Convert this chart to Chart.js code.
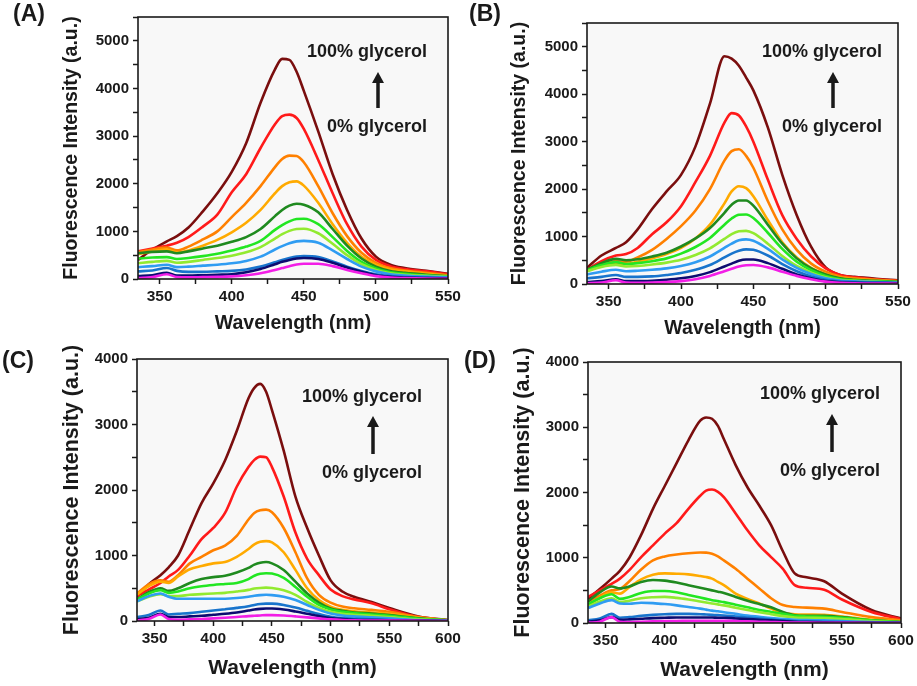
<!DOCTYPE html>
<html lang="en">

<head>
    <meta charset="UTF-8">
    <title>Fluorescence vs glycerol</title>
    <style>
        body {
            margin: 0;
            background-color: #fff;
            width: 917px;
            height: 686px;
            position: relative;
            overflow: hidden;
        }

        canvas {
            position: absolute;
        }
    </style>
    <script src="https://cdn.jsdelivr.net/npm/chart.js"></script>
</head>

<body>
    <canvas id="panelA" width="470" height="340" style="left:0;top:0"></canvas>
    <canvas id="panelB" width="459" height="340" style="left:458px;top:0"></canvas>
    <canvas id="panelC" width="470" height="346" style="left:0;top:340px"></canvas>
    <canvas id="panelD" width="459" height="346" style="left:458px;top:340px"></canvas>

    <script>
        // wavelengths (nm)
        const wlAB = [335, 345, 355, 362, 370, 380, 390, 400, 410, 420, 430, 435, 440, 445, 450, 460, 470, 480, 490, 500, 510, 520, 535, 550];
        const wlCD = [335, 345, 355, 362, 370, 380, 390, 400, 410, 420, 430, 435, 440, 445, 450, 460, 470, 480, 490, 500, 510, 520, 535, 550, 575, 600];

        // tick positions (labels only on every other one)
        const xTicksAB = [350, 375, 400, 425, 450, 475, 500, 525, 550];
        const xTicksCD = [350, 375, 400, 425, 450, 475, 500, 525, 550, 575, 600];
        const yTicksAB = [0, 500, 1000, 1500, 2000, 2500, 3000, 3500, 4000, 4500, 5000, 5500];
        const yTicksCD = [0, 500, 1000, 1500, 2000, 2500, 3000, 3500, 4000];

        const glycerol = ['0%', '10%', '20%', '30%', '40%', '50%', '60%', '70%', '80%', '90%', '100%'];
        const lineColors = ['#f21ee6', '#0c0c70', '#1874cc', '#2f9cf2', '#92ea30', '#22e622', '#1f8a1f', '#ffaa00', '#ff8000', '#ff1a1a', '#7a0e0e'];

        // (A) one row per glycerol fraction, 0% .. 100%
        const seriesA = [
            [20, 40, 100, 40, 35, 40, 45, 55, 80, 120, 190, 230, 270, 305, 320, 320, 270, 190, 120, 60, 30, 20, 10, 5],
            [60, 80, 130, 70, 70, 80, 90, 100, 140, 210, 310, 360, 400, 430, 440, 420, 340, 240, 150, 80, 45, 30, 20, 15],
            [160, 180, 230, 170, 150, 150, 160, 170, 200, 260, 350, 400, 440, 470, 480, 460, 370, 260, 170, 100, 60, 40, 30, 20],
            [250, 270, 300, 250, 260, 280, 300, 330, 380, 470, 620, 690, 750, 790, 800, 760, 600, 420, 260, 160, 100, 75, 50, 35],
            [330, 360, 380, 340, 360, 400, 440, 490, 560, 670, 850, 940, 1010, 1050, 1055, 960, 740, 500, 310, 190, 120, 90, 65, 45],
            [430, 450, 460, 420, 440, 480, 530, 600, 680, 800, 1030, 1130, 1210, 1260, 1265, 1150, 880, 590, 360, 220, 140, 110, 75, 50],
            [540, 570, 580, 540, 580, 640, 700, 780, 880, 1050, 1320, 1450, 1540, 1580, 1560, 1400, 1050, 700, 430, 260, 170, 130, 90, 60],
            [520, 580, 620, 560, 600, 700, 820, 980, 1180, 1450, 1800, 1950, 2030, 2050, 1960, 1600, 1150, 760, 470, 300, 200, 160, 110, 70],
            [560, 620, 660, 600, 680, 830, 1000, 1300, 1600, 1950, 2350, 2520, 2590, 2580, 2450, 1950, 1380, 900, 550, 340, 230, 180, 130, 80],
            [580, 640, 700, 760, 880, 1100, 1350, 1820, 2200, 2750, 3250, 3420, 3450, 3380, 3150, 2500, 1800, 1150, 680, 400, 270, 210, 160, 100],
            [400, 620, 790, 900, 1080, 1420, 1800, 2250, 2850, 3700, 4400, 4620, 4600, 4350, 3950, 3100, 2200, 1450, 850, 470, 300, 230, 170, 110]
        ];

        // (B)
        const seriesB = [
            [15, 30, 80, 30, 25, 30, 40, 60, 100, 170, 270, 320, 370, 395, 400, 350, 260, 170, 100, 50, 25, 15, 10, 5],
            [40, 60, 100, 60, 60, 70, 90, 120, 170, 250, 370, 430, 490, 515, 515, 440, 320, 200, 120, 60, 35, 25, 20, 15],
            [120, 150, 190, 150, 150, 160, 190, 230, 300, 400, 560, 640, 700, 730, 720, 600, 420, 270, 160, 90, 55, 40, 30, 20],
            [200, 260, 300, 270, 280, 300, 330, 380, 460, 580, 760, 850, 920, 940, 910, 740, 520, 340, 210, 120, 75, 55, 40, 30],
            [270, 360, 400, 370, 380, 410, 450, 510, 610, 750, 950, 1050, 1110, 1120, 1070, 850, 590, 380, 240, 140, 85, 65, 45, 35],
            [290, 400, 460, 420, 440, 480, 540, 640, 780, 970, 1250, 1380, 1460, 1465, 1390, 1080, 740, 470, 290, 170, 100, 75, 55, 40],
            [300, 440, 530, 500, 520, 580, 660, 790, 960, 1180, 1500, 1670, 1760, 1760, 1650, 1250, 850, 540, 330, 200, 120, 90, 65, 45],
            [280, 380, 430, 420, 470, 540, 630, 760, 960, 1250, 1700, 1950, 2060, 2020, 1850, 1350, 880, 560, 340, 210, 130, 100, 75, 50],
            [290, 420, 480, 470, 560, 720, 950, 1220, 1550, 2000, 2600, 2800, 2840, 2700, 2450, 1750, 1150, 720, 430, 260, 160, 120, 90, 60],
            [300, 480, 600, 630, 760, 1050, 1300, 1640, 2150, 2700, 3400, 3600, 3550, 3320, 3000, 2200, 1450, 950, 580, 330, 190, 140, 100, 70],
            [340, 600, 760, 880, 1150, 1580, 1950, 2300, 2900, 3800, 4800, 4750, 4600, 4350, 4080, 3300, 2300, 1450, 780, 350, 190, 150, 110, 80]
        ];

        // (C)
        const seriesC = [
            [10, 30, 100, 30, 20, 25, 30, 40, 50, 60, 75, 80, 85, 90, 90, 85, 70, 55, 40, 25, 15, 10, 8, 5, 2, 0],
            [30, 50, 110, 60, 60, 70, 80, 95, 110, 130, 160, 175, 185, 190, 190, 175, 145, 110, 75, 45, 30, 20, 15, 10, 5, 0],
            [60, 90, 160, 100, 110, 120, 140, 160, 180, 200, 225, 245, 260, 265, 265, 245, 205, 155, 105, 65, 45, 35, 25, 15, 5, 0],
            [300, 380, 420, 370, 340, 340, 340, 340, 340, 350, 370, 385, 395, 400, 395, 370, 320, 245, 170, 115, 85, 70, 55, 40, 15, 5],
            [300, 370, 410, 380, 380, 400, 410, 420, 430, 450, 475, 495, 505, 510, 505, 470, 400, 290, 200, 140, 110, 95, 80, 60, 25, 8],
            [320, 420, 470, 430, 450, 500, 530, 550, 565, 580, 640, 690, 720, 730, 725, 660, 520, 370, 245, 175, 140, 120, 100, 80, 35, 10],
            [330, 440, 500, 460, 500, 580, 640, 670, 690, 740, 810, 860, 890, 900, 880, 780, 600, 420, 280, 190, 155, 130, 115, 90, 40, 10],
            [400, 530, 600, 580, 680, 790, 840, 880, 900, 980, 1100, 1170, 1210, 1220, 1200, 1050, 780, 500, 320, 220, 170, 150, 130, 110, 50, 10],
            [420, 560, 620, 600, 700, 880, 980, 1080, 1150, 1300, 1550, 1650, 1690, 1700, 1660, 1420, 1050, 650, 400, 280, 220, 195, 170, 140, 60, 10],
            [380, 480, 580, 680, 780, 1000, 1250, 1420, 1650, 2050, 2350, 2460, 2510, 2500, 2350, 1900, 1350, 950, 700, 480, 380, 330, 270, 180, 60, 10],
            [370, 560, 700, 820, 1000, 1400, 1800, 2100, 2450, 2900, 3400, 3560, 3620, 3500, 3220, 2600, 1900, 1420, 1000, 620, 450, 370, 290, 200, 70, 15]
        ];

        // (D)
        const seriesD = [
            [5, 20, 90, 20, 15, 20, 25, 30, 30, 35, 35, 35, 35, 35, 35, 30, 25, 20, 15, 10, 8, 5, 4, 3, 1, 0],
            [20, 40, 90, 50, 55, 65, 75, 80, 85, 85, 85, 85, 85, 80, 80, 70, 60, 50, 40, 30, 20, 15, 10, 8, 4, 2],
            [40, 70, 140, 80, 90, 110, 125, 135, 140, 140, 135, 130, 125, 120, 115, 100, 85, 70, 55, 40, 30, 25, 20, 15, 8, 3],
            [230, 300, 350, 300, 295, 310, 305, 290, 270, 245, 220, 205, 190, 180, 165, 140, 115, 95, 75, 60, 50, 45, 40, 30, 15, 5],
            [250, 330, 380, 320, 340, 380, 395, 400, 385, 360, 330, 315, 300, 285, 270, 235, 200, 165, 135, 105, 85, 80, 75, 60, 30, 10],
            [290, 380, 440, 370, 400, 460, 490, 490, 470, 430, 390, 370, 350, 335, 320, 280, 240, 200, 170, 140, 110, 100, 95, 80, 40, 15],
            [330, 470, 560, 530, 560, 630, 660, 650, 620, 580, 540, 520, 500, 480, 460, 400, 340, 290, 240, 170, 120, 110, 110, 90, 40, 15],
            [260, 390, 470, 450, 550, 670, 740, 760, 755, 745, 720, 705, 680, 630, 580, 450, 370, 300, 220, 155, 135, 130, 125, 100, 50, 25],
            [330, 420, 500, 520, 640, 820, 960, 1020, 1050, 1070, 1080, 1078, 1060, 1020, 960, 830, 680, 530, 380, 275, 245, 235, 220, 170, 90, 40],
            [400, 500, 600, 680, 810, 1010, 1190, 1370, 1530, 1750, 1950, 2030, 2045, 2010, 1930, 1680, 1420, 1190, 1010, 830, 580, 540, 510, 360, 170, 60],
            [370, 520, 680, 800, 1000, 1350, 1750, 2100, 2450, 2800, 3100, 3150, 3130, 3020, 2820, 2420, 2080, 1800, 1500, 1100, 760, 700, 640, 450, 200, 70]
        ];

        const FONT = '"Liberation Sans", Arial, sans-serif';
        const INK = '#1a1a1a';

        // frame, plot background, panel letter and the glycerol arrow
        const framePlugin = {
            id: 'frame',
            beforeDatasetsDraw(chart) {
                const { ctx, chartArea: a } = chart;
                ctx.save();
                ctx.fillStyle = '#f8f8f8';
                ctx.fillRect(a.left, a.top, a.right - a.left, a.bottom - a.top);
                ctx.restore();
            },
            afterDraw(chart) {
                const { ctx, chartArea: a } = chart;
                const o = chart.options.plugins.frame;
                ctx.save();
                ctx.strokeStyle = INK;
                ctx.lineWidth = 1.6;
                ctx.strokeRect(a.left, a.top, a.right - a.left, a.bottom - a.top);

                ctx.fillStyle = INK;
                ctx.textAlign = 'center';
                ctx.textBaseline = 'middle';
                ctx.font = 'bold 23px ' + FONT;
                ctx.fillText(o.letter, o.letterAt[0], o.letterAt[1]);

                ctx.font = 'bold 18px ' + FONT;
                ctx.fillText('100% glycerol', o.topText[0], o.topText[1]);
                ctx.fillText('0% glycerol', o.bottomText[0], o.bottomText[1]);

                // arrow pointing up
                const [ax, y0, y1] = o.arrow;
                ctx.strokeStyle = INK;
                ctx.lineWidth = 3.5;
                ctx.beginPath();
                ctx.moveTo(ax, y1);
                ctx.lineTo(ax, y0 + 8);
                ctx.stroke();
                ctx.beginPath();
                ctx.moveTo(ax, y0);
                ctx.lineTo(ax - 6, y0 + 11);
                ctx.lineTo(ax + 6, y0 + 11);
                ctx.closePath();
                ctx.fill();
                ctx.restore();
            }
        };

        function makePanel(id, wl, series, xTicks, yTicks, p) {
            const datasets = series.map((vals, i) => ({
                label: glycerol[i] + ' glycerol',
                data: wl.map((x, k) => ({ x: x, y: vals[k] })),
                borderColor: lineColors[i],
                borderWidth: 2.6,
                pointRadius: 0,
                cubicInterpolationMode: 'monotone',
                fill: false
            }));

            return new Chart(document.getElementById(id), {
                type: 'line',
                data: { datasets: datasets },
                options: {
                    responsive: false,
                    animation: false,
                    layout: { padding: { left: 0, top: p.top, right: p.right, bottom: 0 } },
                    plugins: {
                        legend: { display: false },
                        tooltip: { enabled: false },
                        frame: p.frame
                    },
                    scales: {
                        x: {
                            type: 'linear',
                            min: 335,
                            max: xTicks[xTicks.length - 1],
                            bounds: 'data',
                            border: { display: false },
                            grid: { drawOnChartArea: false, drawTicks: true, tickLength: 5, tickColor: INK, tickWidth: 1.5 },
                            ticks: {
                                autoSkip: false,
                                maxRotation: 0,
                                padding: 3,
                                color: INK,
                                font: { family: FONT, size: 15.5, weight: 'bold' },
                                callback: v => (v % 50 === 0 ? v : '')
                            },
                            afterBuildTicks(s) {
                                s.ticks = xTicks.map(v => ({ value: v }));
                            },
                            title: {
                                display: true,
                                text: 'Wavelength (nm)',
                                color: INK,
                                font: { family: FONT, size: p.xTitleSize, weight: 'bold' },
                                padding: { top: 0, bottom: p.xTitlePad }
                            },
                            afterFit(s) {
                                s.height = p.xHeight;
                                s.paddingLeft = 0;
                                s.paddingRight = 0;
                            }
                        },
                        y: {
                            min: 0,
                            max: yTicks[yTicks.length - 1],
                            border: { display: false },
                            grid: { drawOnChartArea: false, drawTicks: true, tickLength: 5, tickColor: INK, tickWidth: 1.5 },
                            ticks: {
                                padding: 4,
                                color: INK,
                                font: { family: FONT, size: 15, weight: 'bold' },
                                callback: v => (v % 1000 === 0 ? v : '')
                            },
                            afterBuildTicks(s) {
                                s.ticks = yTicks.map(v => ({ value: v }));
                            },
                            title: {
                                display: true,
                                text: 'Fluorescence Intensity (a.u.)',
                                color: INK,
                                font: { family: FONT, size: p.yTitleSize, weight: 'bold' },
                                padding: { top: p.yTitlePad, bottom: 0 }
                            },
                            afterFit(s) {
                                s.width = p.yWidth;
                                s.paddingTop = 0;
                                s.paddingBottom = 0;
                            }
                        }
                    }
                },
                plugins: [framePlugin]
            });
        }

        makePanel('panelA', wlAB, seriesA, xTicksAB, yTicksAB, {
            top: 17, right: 22, yWidth: 138, xHeight: 61,
            yTitleSize: 19.5, yTitlePad: 60, xTitleSize: 19.5, xTitlePad: 5,
            frame: { letter: '(A)', letterAt: [29, 15], topText: [367, 52], bottomText: [377, 127], arrow: [378, 72, 108] }
        });

        makePanel('panelB', wlAB, seriesB, xTicksAB, yTicksAB, {
            top: 23, right: 19, yWidth: 129, xHeight: 56,
            yTitleSize: 19.5, yTitlePad: 50, xTitleSize: 19.5, xTitlePad: 0,
            frame: { letter: '(B)', letterAt: [27, 15], topText: [364, 52], bottomText: [374, 127], arrow: [375, 72, 108] }
        });

        makePanel('panelC', wlCD, seriesC, xTicksCD, yTicksCD, {
            top: 19, right: 22, yWidth: 137, xHeight: 65,
            yTitleSize: 21.5, yTitlePad: 59, xTitleSize: 21, xTitlePad: 5,
            frame: { letter: '(C)', letterAt: [18, 22], topText: [362, 57], bottomText: [372, 133], arrow: [373, 76, 114] }
        });

        makePanel('panelD', wlCD, seriesD, xTicksCD, yTicksCD, {
            top: 22, right: 16, yWidth: 130, xHeight: 63,
            yTitleSize: 21.5, yTitlePad: 52, xTitleSize: 21, xTitlePad: 3,
            frame: { letter: '(D)', letterAt: [22, 22], topText: [362, 54], bottomText: [372, 131], arrow: [374, 74, 112] }
        });
    </script>

</body>

</html>
